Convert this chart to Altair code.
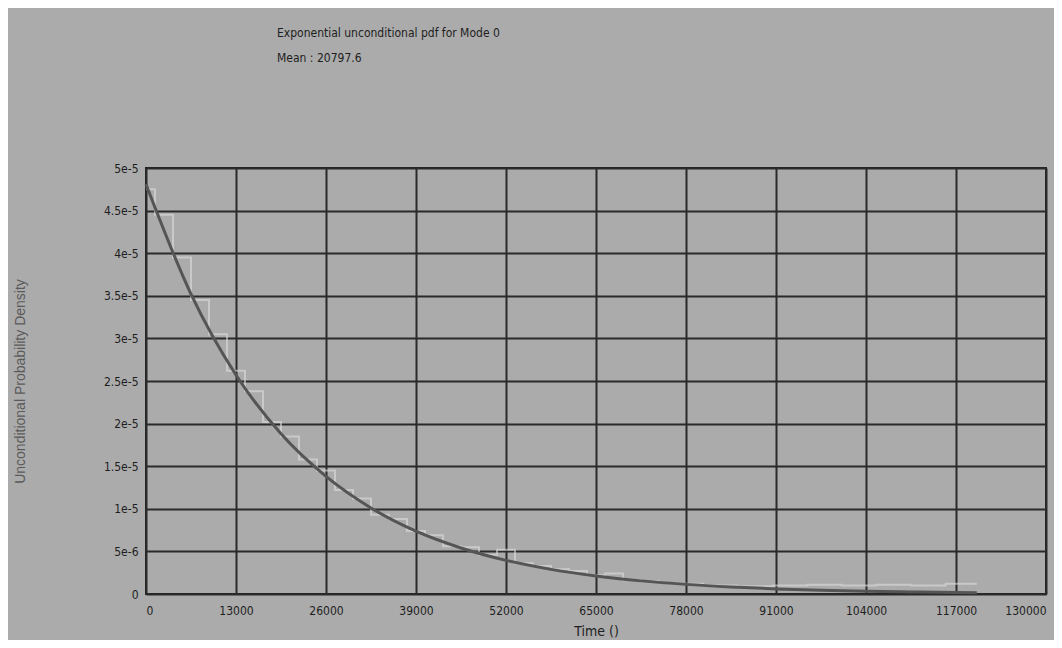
import altair as alt
import pandas as pd

# Fitted exponential pdf curve, values in units of 1e-5
curve_x = [0, 6500, 13000, 19500, 26000, 32500, 39000, 45500, 52000, 58500, 65000,
           71500, 78000, 84500, 91000, 97500, 104000, 110500, 117000, 120000]
curve_y = [4.81, 3.52, 2.57, 1.88, 1.38, 1.01, 0.737, 0.54, 0.395, 0.289, 0.211,
           0.154, 0.113, 0.083, 0.06, 0.044, 0.032, 0.024, 0.017, 0.015]

# Light noisy sample density behind the curve, units of 1e-5
sample_x = [0, 2600, 5200, 7800, 10400, 13000, 15600, 18200, 20800, 23400, 26000,
            28600, 31200, 33800, 36400, 39000, 41600, 44200, 46800, 49400, 52000,
            54600, 57200, 59800, 62400, 65000, 67600, 70200, 72800, 75400, 78000,
            83000, 88000, 93000, 98000, 103000, 108000, 113000, 118000, 120000]
sample_y = [4.75, 4.45, 3.95, 3.45, 3.05, 2.62, 2.38, 2.02, 1.85, 1.58, 1.45,
            1.22, 1.12, 0.93, 0.88, 0.74, 0.69, 0.56, 0.55, 0.46, 0.52,
            0.36, 0.33, 0.29, 0.27, 0.22, 0.24, 0.16, 0.15, 0.13, 0.12,
            0.1, 0.09, 0.1, 0.11, 0.1, 0.11, 0.1, 0.12, 0.12]

x_ticks = [0, 13000, 26000, 39000, 52000, 65000, 78000, 91000, 104000, 117000, 130000]
y_ticks = [0, 5e-6, 1e-5, 1.5e-5, 2e-5, 2.5e-5, 3e-5, 3.5e-5, 4e-5, 4.5e-5, 5e-5]

title_lines = ["Exponential unconditional pdf for Mode 0", "Mean : 20797.6"]
x_title = "Time ()"
y_title = "Unconditional Probability Density"

curve_df = pd.DataFrame({"t": curve_x, "d": [v * 1e-5 for v in curve_y]})
sample_df = pd.DataFrame({"t": sample_x, "d": [v * 1e-5 for v in sample_y]})

FONT = "DejaVu Sans Condensed, Liberation Sans, sans-serif"

x_enc = alt.X("t:Q", scale=alt.Scale(domain=[0, 130000], nice=False),
              axis=alt.Axis(values=x_ticks, format="d", title=x_title,
                            titleY=37, titleBaseline="middle"))
y_enc = alt.Y("d:Q", scale=alt.Scale(domain=[0, 5e-5], nice=False),
              axis=alt.Axis(values=y_ticks, title=y_title,
                            labelExpr="datum.value == 0 ? '0' : format(datum.value, '.1~e')",
                            titleX=-126, titleY=213, titleAngle=-90,
                            titleAlign="center", titleBaseline="middle",
                            titleFont="Liberation Sans", titleFontSize=14,
                            titleColor="#5a5a5a"))

sample = alt.Chart(sample_df).mark_line(
    interpolate="step", color="#dedede", strokeWidth=2, opacity=0.6
).encode(x=x_enc, y=y_enc)

curve = alt.Chart(curve_df).mark_line(
    interpolate="monotone", color="#555555", strokeWidth=3
).encode(x=x_enc, y=y_enc)

chart = alt.layer(sample, curve).properties(
    width=900,
    height=426,
    autosize=alt.AutoSizeParams(type="none"),
    padding={"left": 138, "top": 160, "right": 8, "bottom": 46},
    title=alt.TitleParams(text=title_lines, anchor="start", dx=131, offset=97,
                          font=FONT, fontSize=12, fontWeight="normal",
                          color="#1e1e1e", lineHeight=25, frame="group"),
).configure(
    background="#ababab",
).configure_view(
    stroke="#222222", strokeWidth=2, fill="#ababab"
).configure_axis(
    grid=True, gridColor="#2a2a2a", gridWidth=2, gridOpacity=1,
    domain=False, ticks=False,
    labelFont=FONT, labelFontSize=12, labelColor="#1e1e1e",
    titleFont=FONT, titleFontSize=14, titleColor="#1e1e1e", titleFontWeight="normal",
).configure_axisX(
    labelPadding=11,
).configure_axisY(
    labelPadding=8,
)

chart.save("out.html", embed_options={"renderer": "svg", "actions": False})
